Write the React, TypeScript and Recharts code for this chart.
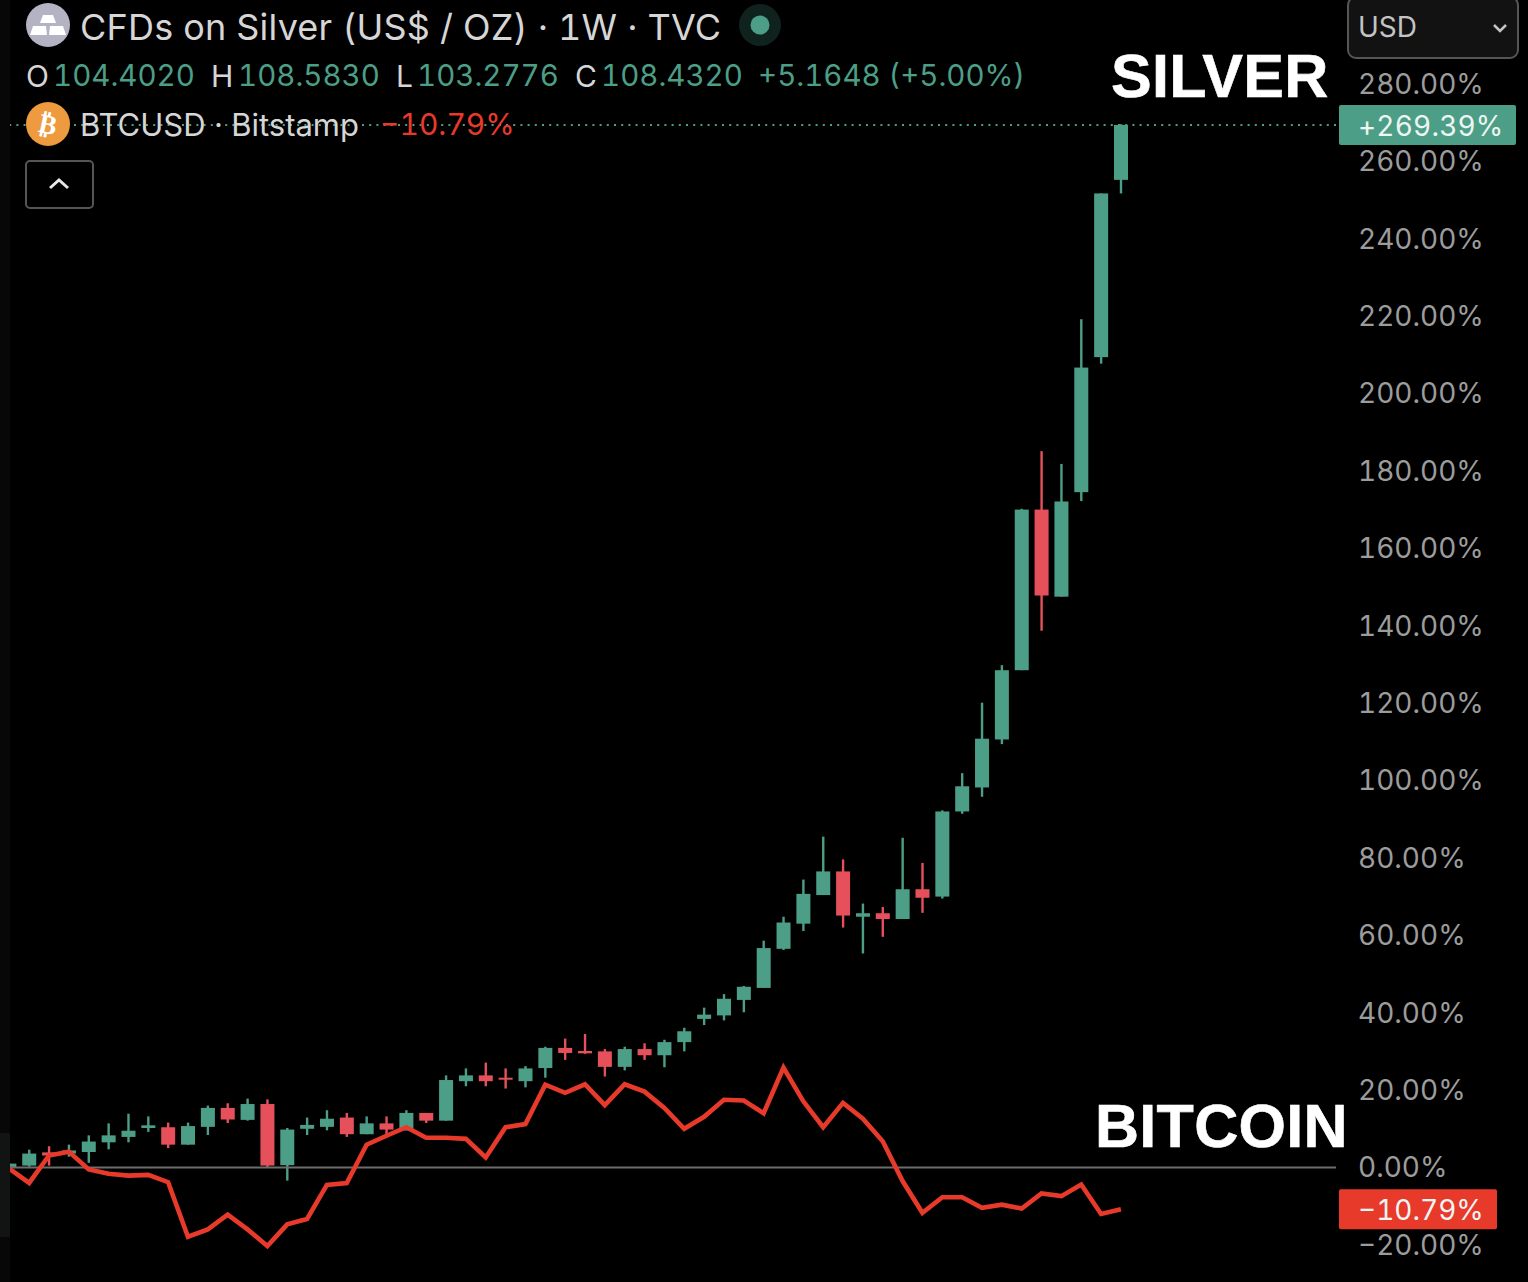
import { Bar, ComposedChart, Line, ReferenceLine, XAxis, YAxis } from 'recharts';

const opens = [0, 0.5, 3.9, 3.6, 4.0, 6.5, 7.9, 10.2, 10.4, 5.9, 10.5, 15.4, 12.3, 16.4, 0.6, 10, 10.5, 12.9, 8.6, 11.4, 9.6, 14.1, 12.1, 22.3, 23.8, 23.2, 22.3, 25.7, 30.9, 30.1, 30, 26, 30.6, 29, 32.4, 38.4, 39.3, 43.3, 46.4, 56.5, 63, 70.4, 76.5, 64.8, 65.7, 64.2, 71.9, 70, 92, 98.2, 110.6, 128.5, 170, 147.5, 174.5, 209.4, 255.2];
const closes = [1, 3.6, 3.1, 4.4, 6.7, 8.3, 9.5, 10.9, 5.9, 10.7, 15.4, 12.4, 16.4, 0.5, 9.8, 11, 12.6, 8.6, 11.4, 9.8, 14.1, 12.1, 22.6, 23.8, 22.3, 22.7, 25.6, 30.9, 29.6, 29.5, 26, 30.6, 29, 32.4, 35.2, 39.5, 43.6, 46.7, 56.7, 63.3, 70.7, 76.5, 65.1, 65.7, 64.2, 71.9, 69.7, 92, 98.5, 110.8, 128.5, 170, 147.8, 172.1, 206.7, 251.7, 269.39];
const highs = [1, 4.6, 5.5, 5.9, 8.3, 11.4, 13.9, 13.2, 11.6, 11.6, 16, 16.6, 17.8, 17.6, 10.2, 12.9, 14.8, 14.1, 13.2, 13.2, 14.8, 14.1, 23.8, 25.6, 27.1, 25.6, 26.2, 31.2, 33.3, 34.5, 30.6, 31.2, 32.1, 33, 36.1, 41.3, 44.8, 46.9, 58.6, 64.8, 74.4, 85.5, 79.6, 68.2, 67.3, 85.2, 78.7, 92.3, 101.9, 120.1, 129.8, 170.2, 185.1, 181.8, 219.2, 251.7, 269.6];
const lows = [0, 0.2, 0.5, 2.8, 1.2, 4.7, 6.5, 9.2, 5, 5.9, 8.4, 11.5, 12.1, -0.1, -3.4, 8.4, 9.6, 7.9, 8.6, 8.5, 9.6, 11.5, 12.1, 21, 21, 20.4, 20.7, 23.2, 27.8, 29.4, 23.5, 25.1, 27.8, 25.9, 30, 36.8, 38, 40.1, 46.4, 56.2, 61.1, 70.4, 62, 55.3, 59.6, 64.2, 65.8, 69.5, 91.4, 95.8, 109.4, 128.5, 138.7, 147.5, 172.2, 207.7, 251.7];
const btc = [-0.3, -4, 3.1, 4.1, -0.5, -1.6, -2.1, -1.9, -3.8, -17.9, -16, -12.2, -16, -20.3, -14.7, -13.3, -4.5, -4, 5.9, 8.2, 10.4, 7.7, 7.7, 7.4, 2.6, 10.4, 11.2, 21.4, 19.3, 21.5, 16.1, 21.5, 19.6, 15.4, 10, 13.1, 17.5, 17.3, 14, 25.8, 17.1, 10.4, 16.7, 12.6, 6.8, -3.5, -11.7, -7.7, -7.7, -10.4, -9.6, -10.6, -6.7, -7.4, -4.4, -12, -10.79];
const tickValues = [-20, 0, 20, 40, 60, 80, 100, 120, 140, 160, 180, 200, 220, 240, 260, 280];

const silverLast = 269.39;
const btcLast = -10.79;
const ohlcLabels = [
  { key: 'O', value: '104.4020', keyX: 26, valueX: 53 },
  { key: 'H', value: '108.5830', keyX: 211, valueX: 238 },
  { key: 'L', value: '103.2776', keyX: 396, valueX: 417 },
  { key: 'C', value: '108.4320', keyX: 575, valueX: 601 },
];

const GREEN = '#4c9e87';
const RED = '#e5505a';
const LINE_RED = '#e83a2b';
const FONT = 'Inter, "Noto Sans", sans-serif';
const LABEL_FONT = '"Liberation Sans", Arial, sans-serif';

const rows = opens.map((open, i) => ({
  week: i,
  open,
  close: closes[i],
  high: highs[i],
  low: lows[i],
  range: [lows[i], highs[i]],
  btc: btc[i],
}));

const fmtPct = (v: number) => (v < 0 ? '\u2212' : '') + Math.abs(v).toFixed(2) + '%';

function Candle(props: any) {
  const { x, y, width, height, payload } = props;
  const perUnit = height / (payload.high - payload.low);
  const top = y + (payload.high - Math.max(payload.open, payload.close)) * perUnit;
  const bodyH = Math.abs(payload.open - payload.close) * perUnit;
  const color = payload.close >= payload.open ? GREEN : RED;
  return (
    <g>
      <rect x={x + width / 2 - 1.2} y={y} width={2.4} height={height} fill={color} />
      <rect x={x} y={top} width={width} height={Math.max(bodyH, 2)} fill={color} />
    </g>
  );
}

function PriceTag(props: any) {
  const { viewBox, text, fill, tagWidth, spacing } = props;
  const left = viewBox.x + viewBox.width + 3;
  return (
    <g>
      <rect x={left} y={viewBox.y - 20} width={tagWidth} height={40} rx={2} fill={fill} />
      <text x={left + 19} y={viewBox.y + 1} dominantBaseline="central" fill="#eef5f2" fontSize={28} fontFamily={FONT} letterSpacing={spacing}>
        {text}
      </text>
    </g>
  );
}

function Txt({ x, y, size, color, weight, family, spacing, stroke, children }: any) {
  return (
    <div
      style={{
        position: 'absolute',
        left: x,
        top: y,
        transform: 'translateY(-50%)',
        fontSize: size,
        color,
        fontWeight: weight || 400,
        fontFamily: family || FONT,
        letterSpacing: spacing || 0,
        WebkitTextStroke: stroke,
        whiteSpace: 'nowrap',
        lineHeight: 1,
      }}
    >
      {children}
    </div>
  );
}

function Header() {
  return (
    <>
      <svg style={{ position: 'absolute', left: 0, top: 0 }} width={800} height={215}>
        <circle cx={48} cy={25} r={22} fill="#b4b3c3" />
        <polygon points="43,15 53,15 56,23 40,23" fill="#fff" />
        <polygon points="33,26 46,26 47,35 30,35" fill="#fff" />
        <polygon points="50,26 63,26 66,35 49,35" fill="#fff" />
        <circle cx={760} cy={25} r={21} fill="#10221e" />
        <circle cx={760} cy={25} r={9.5} fill={GREEN} />
        <circle cx={48} cy={124} r={22} fill="#ee9a3f" />
        <polyline points="50,188 59,180 68,188" fill="none" stroke="#e8e8e8" strokeWidth={3} />
      </svg>
      <div
        style={{
          position: 'absolute',
          left: 25,
          top: 160,
          width: 65,
          height: 45,
          border: '2px solid #555',
          borderRadius: 5,
        }}
      />
      <Txt x={80} y={27} size={36} color="#d6d6d6" spacing={0.2}>
        CFDs on Silver (US$ / OZ) · 1W · TVC
      </Txt>
      {ohlcLabels.map((o) => (
        <div key={o.key}>
          <Txt x={o.keyX} y={76} size={30} color="#d6d6d6">{o.key}</Txt>
          <Txt x={o.valueX} y={76} size={29.5} color={GREEN}>{o.value}</Txt>
        </div>
      ))}
      <Txt x={758} y={76} size={29.5} color={GREEN}>+5.1648 (+5.00%)</Txt>
      <div style={{ position: 'absolute', left: 39, top: 124, transform: 'translateY(-50%) rotate(12deg)', fontFamily: 'DejaVu Sans', fontWeight: 700, fontSize: 27, color: '#fff', lineHeight: 1 }}>
        ₿
      </div>
      <Txt x={80} y={124} size={31} color="#d6d6d6">BTCUSD · Bitstamp</Txt>
      <Txt x={380} y={124} size={30} color={LINE_RED}>{fmtPct(btcLast)}</Txt>

      <div
        style={{
          position: 'absolute',
          left: 1347,
          top: -4,
          width: 168,
          height: 59,
          border: '2px solid #555',
          borderRadius: 9,
          background: '#121212',
        }}
      />
      <Txt x={1358} y={27} size={28} color="#c4c4c4">USD</Txt>
      <svg style={{ position: 'absolute', left: 1490, top: 20 }} width={20} height={16}>
        <polyline points="4,5 10,11 16,5" fill="none" stroke="#c4c4c4" strokeWidth={2.6} />
      </svg>

      <Txt x={1111} y={76} size={61} weight={700} color="#fff" family={LABEL_FONT} spacing={0.3} stroke="0.6px #fff">SILVER</Txt>
      <Txt x={1095} y={1126} size={61} weight={700} color="#fff" family={LABEL_FONT} spacing={0.3} stroke="0.6px #fff">BITCOIN</Txt>
    </>
  );
}

export default function App() {
  return (
    <div style={{ position: 'absolute', left: 0, top: 0, width: 1528, height: 1282, background: '#000', overflow: 'hidden', fontVariantNumeric: 'tabular-nums' }}>
      <div style={{ position: 'absolute', left: 0, top: 0, width: 10, height: 1282, background: '#070707' }} />
      <div style={{ position: 'absolute', left: 0, top: 1133, width: 10, height: 104, background: '#121414' }} />
      <ComposedChart
        width={1528}
        height={1282}
        data={rows}
        margin={{ top: 0, right: 0, bottom: 0, left: 10 }}
        style={{ position: 'absolute', left: 0, top: 0 }}
      >
        <XAxis dataKey="week" type="number" domain={[0.035, 66.835]} allowDataOverflow hide />
        <YAxis
          orientation="right"
          width={192}
          domain={[-29.59, 301.68]}
          allowDataOverflow
          ticks={tickValues}
          interval={0}
          tickFormatter={fmtPct}
          tickLine={false}
          axisLine={false}
          tickMargin={16}
          tick={{ fill: '#9c9c9c', fontSize: 28, fontFamily: FONT }}
        />
        <ReferenceLine y={0} stroke="#6c6c6c" strokeWidth={2} />
        <ReferenceLine
          y={silverLast}
          stroke={GREEN}
          strokeWidth={2}
          strokeDasharray="2 5.2"
          label={<PriceTag text={'+' + silverLast.toFixed(2) + '%'} fill={GREEN} tagWidth={177} spacing={0.2} />}
        />
        <ReferenceLine
          y={btcLast}
          stroke="none"
          label={<PriceTag text={fmtPct(btcLast)} fill={LINE_RED} tagWidth={158} />}
        />
        <Bar dataKey="range" barSize={14} shape={<Candle />} isAnimationActive={false} />
        <Line dataKey="btc" type="linear" stroke={LINE_RED} strokeWidth={4.6} dot={false} activeDot={false} isAnimationActive={false} />
      </ComposedChart>
      <Header />
    </div>
  );
}
